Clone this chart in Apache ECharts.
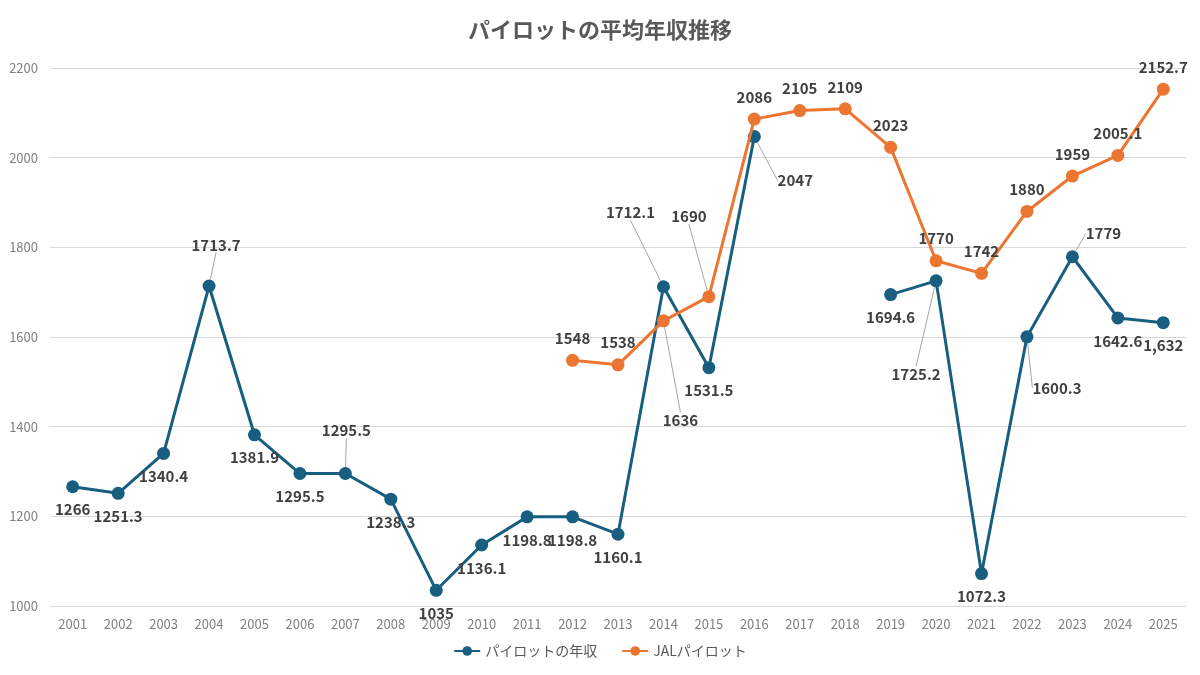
<!DOCTYPE html>
<html>
<head>
<meta charset="utf-8">
<script src="https://cdn.jsdelivr.net/npm/echarts@6/dist/echarts.min.js"></script>
<style>
html, body { margin: 0; padding: 0; background: #fff; }
#main { width: 1200px; height: 675px; }
</style>
</head>
<body>
<div id="main"></div>
<script>
var years = ['2001','2002','2003','2004','2005','2006','2007','2008','2009','2010','2011','2012','2013',
             '2014','2015','2016','2017','2018','2019','2020','2021','2022','2023','2024','2025'];
// パイロットの年収 (2017, 2018 は欠測)
var pilotPay = [1266, 1251.3, 1340.4, 1713.7, 1381.9, 1295.5, 1295.5, 1238.3, 1035, 1136.1, 1198.8, 1198.8, 1160.1,
                1712.1, 1531.5, 2047, null, null, 1694.6, 1725.2, 1072.3, 1600.3, 1779, 1642.6, 1632];
// JALパイロット (2012年から)
var jalPay = [null, null, null, null, null, null, null, null, null, null, null, 1548, 1538,
              1636, 1690, 2086, 2105, 2109, 2023, 1770, 1742, 1880, 1959, 2005.1, 2152.7];
var yTicks = [1000, 1200, 1400, 1600, 1800, 2000, 2200];

var blue = '#185e80';
var orange = '#ec7532';

// ラベル位置 (点からのずらし量, px)
var blueMoves = { 3: [7, -41], 6: [1, -43], 13: [-33, -74], 15: [41, 44], 19: [-20, 93], 21: [30, 51], 22: [31, -23] };
var orangeMoves = { 13: [17, 99], 14: [-20, -80] };

function buildData(vals, moves) {
  return vals.map(function (v, i) {
    return { value: v, labelLine: { show: moves[i] != null } };
  });
}

function moveLabel(moves) {
  return function (p) {
    var m = moves[p.dataIndex];
    if (!m) return {};
    return {
      x: p.rect.x + p.rect.width / 2 + m[0],
      y: p.rect.y + p.rect.height / 2 + m[1],
      align: 'center',
      verticalAlign: 'middle'
    };
  };
}

var myChart = echarts.init(document.getElementById('main'));
var font = '"Noto Sans CJK JP", "Noto Sans", sans-serif';

var option = {
  backgroundColor: '#fff',
  textStyle: { fontFamily: font },
  title: {
    text: 'パイロットの平均年収推移',
    left: 'center',
    top: 14,
    textStyle: { fontSize: 22, fontWeight: 'bold', color: '#595959', fontFamily: font }
  },
  legend: {
    bottom: 12,
    left: 'center',
    itemWidth: 26,
    itemHeight: 12,
    itemGap: 24,
    textStyle: { fontSize: 14, color: '#595959', fontFamily: font },
    data: ['パイロットの年収', 'JALパイロット']
  },
  grid: { left: 50, right: 14, top: 68, bottom: 69 },
  xAxis: {
    type: 'category',
    data: years,
    boundaryGap: true,
    axisLine: { show: true, lineStyle: { color: '#d9d9d9', width: 1 } },
    axisTick: { show: false },
    axisLabel: { color: '#808080', fontSize: 13, margin: 12, fontFamily: font }
  },
  yAxis: {
    type: 'value',
    min: yTicks[0],
    max: yTicks[yTicks.length - 1],
    interval: 200,
    axisLine: { show: false },
    axisTick: { show: false },
    splitLine: { lineStyle: { color: '#d9d9d9', width: 1 } },
    axisLabel: {
      color: '#808080', fontSize: 13, margin: 12, fontFamily: font,
      formatter: function (v) { return String(v); }
    }
  },
  series: [
    {
      name: 'パイロットの年収',
      type: 'line',
      data: buildData(pilotPay, blueMoves),
      connectNulls: false,
      symbol: 'circle',
      symbolSize: 13,
      lineStyle: { width: 3, color: blue },
      itemStyle: { color: blue },
      label: {
        show: true,
        position: 'bottom',
        distance: 9,
        fontSize: 15,
        fontWeight: 'bold',
        color: '#404040',
        fontFamily: font,
        formatter: function (p) {
          return p.dataIndex === 24 ? '1,632' : String(p.value);
        }
      },
      labelLine: { lineStyle: { color: '#a6a6a6', width: 1 } },
      labelLayout: moveLabel(blueMoves),
      z: 2
    },
    {
      name: 'JALパイロット',
      type: 'line',
      data: buildData(jalPay, orangeMoves),
      symbol: 'circle',
      symbolSize: 13,
      lineStyle: { width: 3, color: orange },
      itemStyle: { color: orange },
      label: {
        show: true,
        position: 'top',
        distance: 8,
        fontSize: 15,
        fontWeight: 'bold',
        color: '#404040',
        fontFamily: font
      },
      labelLine: { lineStyle: { color: '#a6a6a6', width: 1 } },
      labelLayout: moveLabel(orangeMoves),
      z: 3
    }
  ]
};

myChart.setOption(option);
</script>
</body>
</html>
